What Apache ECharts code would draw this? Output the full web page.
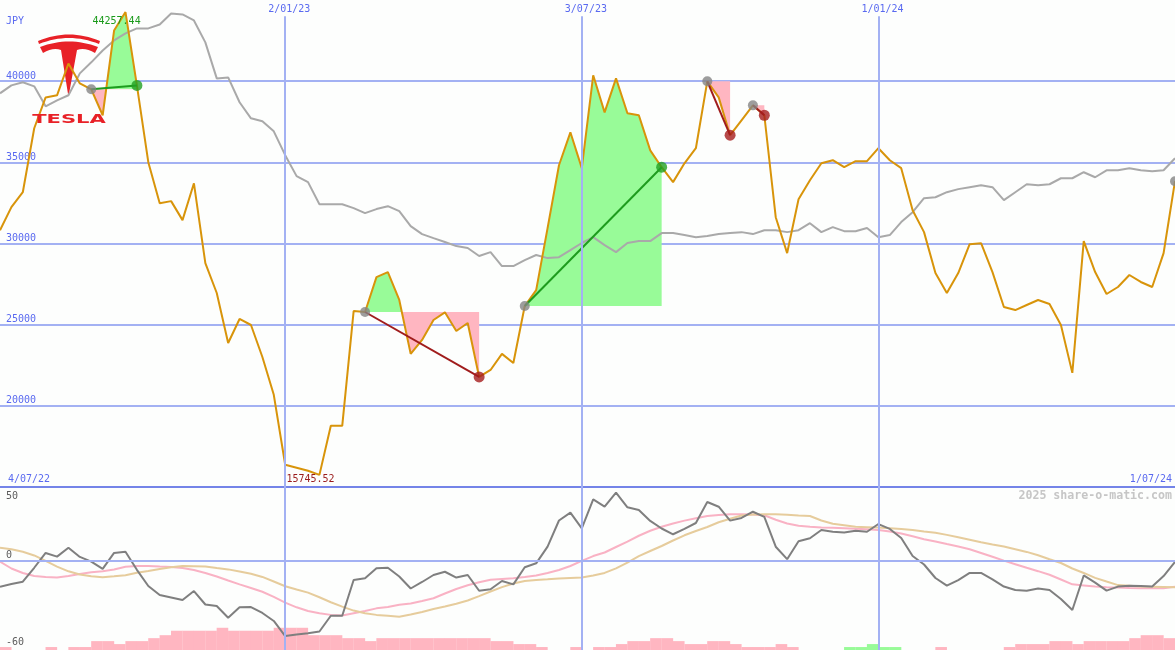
<!DOCTYPE html>
<html><head><meta charset="utf-8">
<script src="https://cdn.jsdelivr.net/npm/echarts@6/dist/echarts.min.js"></script>
<style>html,body{margin:0;padding:0;background:#fdfefd;}#c{width:1175px;height:650px;}</style>
</head><body><div id="c"></div>
<script>
// ---------- DATA (weekly, index 0 = first week shown) ----------
const price = [
  30820, 32240, 33160, 37100, 39000, 39130, 41090, 39860, 39500, 37900,
  43120, 44257.44, 39740, 35010, 32480, 32610, 31440, 33710, 28790, 26950,
  23870, 25350, 24980, 23010, 20680, 16370, 16190, 16000, 15745.52, 18770,
  18770, 25840, 25780, 27930, 28240, 26520, 23200, 24060, 25290, 25760,
  24610, 25100, 21780, 22210, 23200, 22640, 26150, 27130, 30950, 34820,
  36850, 34640, 40360, 38080, 40170, 38020, 37900, 35740, 34700, 33780,
  34940, 35870, 39990, 39000, 36670, 37590, 38510, 37900, 31620, 29410,
  32730, 33900, 34940, 35130, 34700, 35070, 35070, 35870, 35130, 34640,
  32050, 30700, 28180, 26950, 28180, 29960, 30020, 28240, 26090, 25900,
  26210, 26520, 26270, 24980, 22030, 30150, 28240, 26890, 27320, 28060,
  27630, 27320, 29410, 33840
];
const movingAvg = [
  39250, 39740, 39930, 39680, 38450, 38820, 39130, 40480, 41160, 41890,
  42510, 42940, 43250, 43250, 43490, 44170, 44110, 43740, 42390, 40170,
  40230, 38700, 37710, 37530, 36910, 35440, 34150, 33780, 32420, 32420,
  32420, 32180, 31870, 32120, 32300, 31990, 31070, 30580, 30330, 30090,
  29840, 29720, 29230, 29470, 28610, 28610, 28980, 29290, 29100, 29160,
  29590, 30030, 30390, 29900, 29470, 30030, 30150, 30150, 30640, 30640,
  30520, 30390, 30460, 30580, 30640, 30700, 30580, 30820, 30820, 30700,
  30820, 31250, 30700, 31010, 30760, 30760, 30950, 30390, 30520, 31320,
  31930, 32790, 32850, 33160, 33350, 33470, 33590, 33470, 32670, 33160,
  33650, 33590, 33650, 34020, 34020, 34390, 34080, 34510, 34510, 34640,
  34510, 34450, 34510, 35250
];
const oscillator = [
  -17.3, -15.5, -13.9, -4.5, 5.5, 3.0, 9.0, 2.8, -0.4, -5.3,
  5.5, 6.3, -5.9, -16.8, -22.9, -24.6, -26.3, -20.2, -29.3, -30.3,
  -38.2, -31.2, -31.0, -35.0, -40.4, -50.6, -49.5, -48.7, -47.5, -36.9,
  -36.9, -12.8, -11.6, -4.9, -4.5, -10.4, -18.5, -14.1, -9.4, -7.2,
  -11.1, -9.4, -20.0, -19.0, -13.4, -15.7, -4.2, -1.5, 9.8, 27.4,
  32.7, 22.1, 41.6, 36.7, 46.2, 36.3, 34.5, 27.1, 22.0, 18.1,
  21.7, 25.7, 39.9, 36.7, 27.3, 29.1, 33.3, 29.8, 9.7, 1.3,
  13.4, 15.4, 21.0, 19.8, 19.3, 20.5, 19.8, 25.0, 21.7, 15.6,
  3.4, -2.3, -11.4, -16.6, -12.8, -8.0, -8.0, -12.4, -17.2, -19.5,
  -20.0, -18.5, -19.5, -25.6, -33.0, -9.7, -14.5, -19.9, -17.2, -16.6,
  -16.8, -17.2, -10.1, -0.6
];
const oscPink = [
  -0.4, -5.0, -8.0, -10.1, -10.7, -11.1, -10.1, -8.7, -7.6, -6.9,
  -5.7, -3.8, -3.3, -3.3, -3.7, -4.0, -4.7, -6.0, -8.0, -10.4,
  -13.1, -15.7, -18.2, -20.7, -24.1, -28.0, -31.2, -33.7, -35.2, -36.3,
  -36.7, -35.2, -33.7, -31.9, -31.0, -29.5, -28.6, -26.9, -25.1, -21.9,
  -18.8, -16.3, -14.3, -12.6, -12.1, -11.6, -10.7, -9.7, -8.0, -6.0,
  -3.3, 0.1, 3.4, 5.8, 9.5, 13.2, 17.1, 20.5, 23.2, 25.4,
  27.3, 28.9, 30.4, 31.1, 31.6, 31.6, 31.4, 30.9, 27.9, 25.4,
  23.9, 23.2, 22.7, 22.5, 22.2, 21.8, 21.5, 21.0, 20.0, 18.6,
  16.7, 14.8, 13.2, 11.5, 9.9, 8.0, 5.5, 2.9, 0.3, -2.1,
  -4.5, -6.8, -9.2, -12.4, -15.7, -16.4, -17.2, -17.6, -17.9, -18.2,
  -18.4, -18.4, -18.4, -17.3
];
const oscTan = [
  9.0, 8.0, 6.3, 3.8, 0.1, -3.7, -6.9, -9.1, -10.3, -10.9,
  -10.3, -9.5, -7.8, -6.7, -5.3, -4.2, -3.3, -3.5, -3.7, -4.7,
  -5.6, -7.0, -8.6, -10.7, -13.8, -17.0, -19.2, -21.3, -24.4, -27.8,
  -30.7, -33.4, -35.2, -36.3, -36.9, -37.5, -36.0, -34.4, -32.3, -30.7,
  -28.8, -26.6, -23.6, -20.5, -17.6, -15.1, -13.4, -12.8, -12.3, -11.7,
  -11.4, -11.1, -9.7, -8.0, -4.9, -1.0, 3.4, 6.8, 10.2, 13.9,
  17.4, 20.3, 23.0, 26.2, 28.6, 30.8, 31.4, 31.6, 31.6, 31.2,
  30.7, 30.4, 27.4, 25.2, 24.2, 23.1, 22.9, 22.6, 22.2, 21.7,
  21.0, 20.0, 19.1, 17.7, 16.1, 14.4, 12.7, 11.2, 9.8, 8.0,
  6.2, 3.9, 1.2, -1.3, -5.0, -8.0, -11.3, -13.8, -16.2, -16.6,
  -17.1, -17.4, -17.5, -17.7
];
// histogram: one bar per week interval
const histPink = [
  2, 0, 0, 0, 2, 0, 2, 2, 6, 6,
  4, 6, 6, 8, 10, 13, 13, 13, 13, 15,
  13, 13, 13, 13, 15, 15, 15, 10, 10, 10,
  8, 8, 6, 8, 8, 8, 8, 8, 8, 8,
  8, 8, 8, 6, 6, 4, 4, 2, 0, 0,
  2, 0, 2, 2, 4, 6, 6, 8, 8, 6,
  4, 4, 6, 6, 4, 2, 2, 2, 4, 2,
  0, 0, 0, 0, 0, 0, 0, 0, 0, 0,
  0, 0, 2, 0, 0, 0, 0, 0, 2, 4,
  4, 4, 6, 6, 4, 6, 6, 6, 6, 8,
  10, 10, 8
];
const histGreen = [
  0, 0, 0, 0, 0, 0, 0, 0, 0, 0,
  0, 0, 0, 0, 0, 0, 0, 0, 0, 0,
  0, 0, 0, 0, 0, 0, 0, 0, 0, 0,
  0, 0, 0, 0, 0, 0, 0, 0, 0, 0,
  0, 0, 0, 0, 0, 0, 0, 0, 0, 0,
  0, 0, 0, 0, 0, 0, 0, 0, 0, 0,
  0, 0, 0, 0, 0, 0, 0, 0, 0, 0,
  0, 0, 0, 0, 2, 2, 4, 2, 2, 0,
  0, 0, 0, 0, 0, 0, 0, 0, 0, 0,
  0, 0, 0, 0, 0, 0, 0, 0, 0, 0,
  0, 0, 0
];
const signalStart = [8, 32, 46, 62, 66];
const signalEnd = [12, 42, 58, 64, 67];
const signalDir = ['up', 'down', 'up', 'down', 'down'];
const openSignal = [103];
const gridWeeks = [25, 51, 77];
const gridDateLabels = ['2/01/23', '3/07/23', '1/01/24'];
const rangeLabels = ['4/07/22', '1/07/24'];
const priceTicks = [20000, 25000, 30000, 35000, 40000];
const oscTickLabels = ['50', '0', '-60'];
const oscTickValues = [50, 0, -60];
const currency = 'JPY';
const watermark = '2025 share-o-matic.com';
const brand = 'TESLA';

// ---------- STYLE ----------
const MONO = '"DejaVu Sans Mono", monospace';
const BLUE_TXT = '#5a6af0';
const GRID_BLUE = '#a3b1f3';
const SEP_BLUE = '#7484e8';
const GREEN_FILL = '#98fb98';
const PINK_FILL = '#ffb6c1';
const ORANGE = '#d8940a';
const NWEEK = price.length - 1;

const xy = arr => arr.map((v, i) => [i, v]);

const series = [];
// grid verticals for top panel (under fills)
series.push({
  id: 'gridTop', type: 'line', xAxisIndex: 0, yAxisIndex: 0, data: xy(price),
  symbol: 'none', lineStyle: { opacity: 0 }, silent: true, z: 0,
  markLine: {
    silent: true, symbol: 'none', label: { show: false },
    lineStyle: { color: GRID_BLUE, width: 2, type: 'solid' },
    data: gridWeeks.map(w => [{ coord: [w, 44000] }, { coord: [w, 15000] }])
  }
});
// signal fills
signalStart.forEach((s, k) => {
  const e = signalEnd[k];
  const pts = [];
  for (let i = s; i <= e; i++) pts.push([i, price[i]]);
  series.push({
    id: 'fill' + k, type: 'line', xAxisIndex: 0, yAxisIndex: 0, data: pts,
    symbol: 'none', lineStyle: { width: 0, opacity: 0 }, silent: true, z: 1,
    areaStyle: { origin: price[s], opacity: 1, color: GREEN_FILL }
  });
});
series.push({
  type: 'line', xAxisIndex: 0, yAxisIndex: 0, data: xy(movingAvg), symbol: 'none',
  lineStyle: { color: '#a9a9a9', width: 2 }, silent: true, z: 2
});
series.push({
  type: 'line', xAxisIndex: 0, yAxisIndex: 0, data: xy(price), symbol: 'none',
  lineStyle: { color: ORANGE, width: 2 }, silent: true, z: 3
});
signalStart.forEach((s, k) => {
  const e = signalEnd[k];
  series.push({
    type: 'line', xAxisIndex: 0, yAxisIndex: 0, data: [[s, price[s]], [e, price[e]]],
    symbol: 'none', silent: true, z: 4,
    lineStyle: { color: signalDir[k] === 'up' ? '#1e9c1e' : '#a01c1c', width: 2 }
  });
});
series.push({
  type: 'scatter', xAxisIndex: 0, yAxisIndex: 0, symbolSize: 10, silent: true, z: 5,
  data: signalStart.concat(openSignal).map(i => [i, price[i]]),
  itemStyle: { color: '#858585' }
});
series.push({
  type: 'scatter', xAxisIndex: 0, yAxisIndex: 0, symbolSize: 11, silent: true, z: 5,
  data: signalEnd.map((i, k) => ({ value: [i, price[i]], itemStyle: { color: signalDir[k] === 'up' ? '#22a022' : '#a51d1d' } }))
});
// bottom panel
series.push({
  id: 'gridBottom', type: 'line', xAxisIndex: 1, yAxisIndex: 1, data: xy(oscillator),
  symbol: 'none', lineStyle: { opacity: 0 }, silent: true, z: 0,
  markLine: {
    silent: true, symbol: 'none', label: { show: false },
    lineStyle: { color: GRID_BLUE, width: 2, type: 'solid' },
    data: [{ yAxis: 0 }].concat(gridWeeks.map(w => [{ coord: [w, 50] }, { coord: [w, -60] }]))
  }
});
series.push({
  type: 'bar', xAxisIndex: 1, yAxisIndex: 2, stack: 'hist', barWidth: 11.6, silent: true, z: 1,
  data: histPink.map((v, k) => [k + 0.5, v]), itemStyle: { color: PINK_FILL }
});
series.push({
  type: 'bar', xAxisIndex: 1, yAxisIndex: 2, stack: 'hist', barWidth: 11.6, silent: true, z: 1,
  data: histGreen.map((v, k) => [k + 0.5, v]), itemStyle: { color: GREEN_FILL }
});
series.push({
  type: 'line', xAxisIndex: 1, yAxisIndex: 1, data: xy(oscPink), symbol: 'none',
  lineStyle: { color: '#f9b2c4', width: 2 }, silent: true, z: 2
});
series.push({
  type: 'line', xAxisIndex: 1, yAxisIndex: 1, data: xy(oscTan), symbol: 'none',
  lineStyle: { color: '#e6cc9c', width: 2 }, silent: true, z: 2
});
series.push({
  type: 'line', xAxisIndex: 1, yAxisIndex: 1, data: xy(oscillator), symbol: 'none',
  lineStyle: { color: '#7f7f7f', width: 2 }, silent: true, z: 3
});

const option = {
  animation: false,
  backgroundColor: '#fdfefd',
  grid: [
    { left: 0, right: 0, top: 0, height: 487 },
    { left: 0, right: 0, top: 487, height: 163 }
  ],
  xAxis: [
    { gridIndex: 0, type: 'value', min: 0, max: NWEEK,
      axisLine: { show: true, onZero: false, lineStyle: { color: SEP_BLUE, width: 2 } },
      axisTick: { show: false }, axisLabel: { show: false }, splitLine: { show: false } },
    { gridIndex: 1, type: 'value', min: 0, max: NWEEK, show: false }
  ],
  yAxis: [
    { gridIndex: 0, type: 'value', min: 15000, max: 45000, interval: 5000,
      axisLine: { show: false }, axisTick: { show: false },
      splitLine: { show: true, showMinLine: false, showMaxLine: false, lineStyle: { color: GRID_BLUE, width: 2 } },
      axisLabel: { inside: true, margin: 6, verticalAlign: 'bottom', color: BLUE_TXT,
        fontFamily: MONO, fontSize: 10, showMinLabel: false, showMaxLabel: false,
        formatter: v => priceTicks.indexOf(v) >= 0 ? String(v) : '' } },
    { gridIndex: 1, type: 'value', min: -60, max: 50, show: false },
    { gridIndex: 1, type: 'value', min: 0, max: 110, show: false }
  ],
  series: series
};

const chart = echarts.init(document.getElementById('c'));
chart.setOption(option);

// ---------- second pass: colours split at base level, texts ----------
const P = (g, x, y) => chart.convertToPixel({ gridIndex: g }, [x, y]);
const H = chart.getHeight();
const W = chart.getWidth();
const fillUpdates = signalStart.map((s, k) => {
  const t = Math.min(1, Math.max(0, P(0, s, price[s])[1] / H));
  return { id: 'fill' + k, areaStyle: { color: { type: 'linear', x: 0, y: 0, x2: 0, y2: H, global: true,
    colorStops: [{ offset: 0, color: GREEN_FILL }, { offset: t, color: GREEN_FILL },
                 { offset: t, color: PINK_FILL }, { offset: 1, color: PINK_FILL }] } } };
});

function txt(text, x, y, o) {
  o = o || {};
  const align = o.align || 'left', va = o.va || 'middle';
  return { type: 'text', x: x, y: y, z: 10, silent: true, scaleX: o.scaleX || 1,
    style: { text: text, fill: o.fill || BLUE_TXT, font: o.font || ('10px ' + MONO),
      textAlign: align, align: align, textVerticalAlign: va, verticalAlign: va } };
}
function quad(x0, y0, cx, cy, x1, y1, n) {
  const pts = [];
  for (let j = 0; j <= n; j++) {
    const t = j / n, a = (1 - t) * (1 - t), b = 2 * (1 - t) * t, c = t * t;
    pts.push([a * x0 + b * cx + c * x1, a * y0 + b * cy + c * y1]);
  }
  return pts;
}
const LOGO_RED = '#e82127';
const arcPts = quad(38, 41, 69, 28, 100, 41, 16).concat(quad(99, 44, 69, 32, 39, 44, 16));
const bodyPts = quad(40, 47, 69, 36, 98, 47, 16)
  .concat([[95, 53]]).concat(quad(95, 53, 85, 47, 77, 50, 6).slice(1))
  .concat([[69, 94], [68, 94]]).concat(quad(61, 50, 53, 47, 43, 53, 6));

const iMax = price.indexOf(Math.max.apply(null, price));
const iMin = price.indexOf(Math.min.apply(null, price));
const graphics = [
  { type: 'polygon', z: 0, silent: true, shape: { points: arcPts }, style: { fill: LOGO_RED } },
  { type: 'polygon', z: 0, silent: true, shape: { points: bodyPts }, style: { fill: LOGO_RED } },
  txt(brand, 69, 120, { align: 'center', fill: LOGO_RED, font: 'bold 13px "DejaVu Sans"', scaleX: 1.62 }),
  txt(currency, 6, 21),
  txt(rangeLabels[0], 8, 479),
  txt(rangeLabels[1], W - 3, 479, { align: 'right' }),
  txt(watermark, W - 3, 496, { align: 'right', fill: '#c6c6c6', font: 'bold 11.6px ' + MONO }),
  txt(price[iMax].toFixed(2), P(0, iMax, price[iMax])[0] - 33, 21, { fill: '#1a9a1a' }),
  txt(price[iMin].toFixed(2), P(0, iMin, price[iMin])[0] - 33, 479, { fill: '#9b1c1c' })
];
gridWeeks.forEach((w, k) => graphics.push(txt(gridDateLabels[k], P(0, w, 15000)[0] - 17, 9)));
oscTickValues.forEach((v, k) => {
  const y = P(1, 0, v)[1];
  if (k === 0) graphics.push(txt(oscTickLabels[k], 6, y + 4, { fill: '#5c5c5c', va: 'top' }));
  else graphics.push(txt(oscTickLabels[k], 6, y - (v === 0 ? 1 : 3), { fill: '#5c5c5c', va: 'bottom' }));
});

chart.setOption({ series: fillUpdates, graphic: graphics });
</script>
</body></html>
